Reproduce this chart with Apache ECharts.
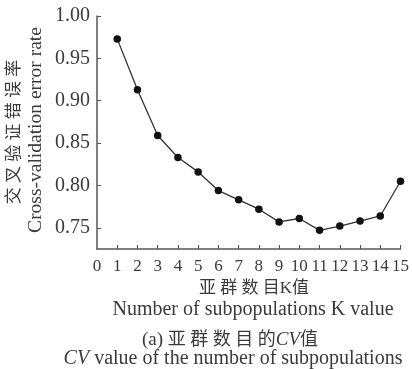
<!DOCTYPE html>
<html><head><meta charset="utf-8">
<script src="https://cdn.jsdelivr.net/npm/echarts@6/dist/echarts.min.js"></script>
<style>html,body{margin:0;padding:0;background:#fff}#c{width:412px;height:369px}</style>
</head><body><div id="c"></div>
<script>
var kValues = [1,2,3,4,5,6,7,8,9,10,11,12,13,14,15];
var cvError = [0.973,0.913,0.859,0.833,0.816,0.794,0.783,0.772,0.757,0.761,0.747,0.752,0.758,0.764,0.805];
var yTicks = [0.75,0.80,0.85,0.90,0.95,1.00];
var xTicks = [0,1,2,3,4,5,6,7,8,9,10,11,12,13,14,15];
var FONT = '"Liberation Serif","Noto Sans CJK SC",serif';
var TXT = '#3a3a3a';
var chart = echarts.init(document.getElementById('c'));
chart.setOption({
  animation:false,
  backgroundColor:'#fff',
  grid:{left:97,right:8,top:16,bottom:120,containLabel:false},
  xAxis:{type:'value',min:0,max:15,interval:1,
    axisLine:{onZero:false,lineStyle:{color:'#555',width:1.5}},
    axisTick:{inside:true,length:4,lineStyle:{color:'#555'},customValues:xTicks.slice(1)},
    axisLabel:{color:TXT,fontFamily:FONT,fontSize:17,margin:9,customValues:xTicks},
    splitLine:{show:false}},
  yAxis:{type:'value',min:0.725,max:1.0,
    axisLine:{show:true,lineStyle:{color:'#555',width:1.5}},
    axisTick:{show:true,inside:true,length:4,lineStyle:{color:'#555'},customValues:yTicks},
    axisLabel:{color:TXT,fontFamily:FONT,fontSize:20,margin:7,customValues:yTicks,formatter:function(v){return v.toFixed(2);}},
    splitLine:{show:false}},
  series:[{type:'line',data:kValues.map(function(k,i){return [k,cvError[i]];}),
    symbol:'circle',symbolSize:7.5,lineStyle:{color:'#333',width:1.3},itemStyle:{color:'#111'}}],
  graphic:[
    {type:'text',x:15,y:132,rotation:Math.PI/2,style:{text:'交 叉 验 证 错 误 率',font:'17px '+FONT,fill:TXT,align:'center',verticalAlign:'middle'}},
    {type:'text',x:36,y:130,rotation:Math.PI/2,style:{text:'Cross-validation error rate',font:'19.5px '+FONT,fill:TXT,align:'center',verticalAlign:'middle'}},
    {type:'text',x:254,y:289,style:{text:'亚 群 数 目K值',font:'17px '+FONT,fill:TXT,align:'center',verticalAlign:'middle'}},
    {type:'text',x:253,y:310,style:{text:'Number of subpopulations K value',font:'20px '+FONT,fill:TXT,align:'center',verticalAlign:'middle'}},
    {type:'text',x:230,y:340,style:{rich:{p:{font:'19px '+FONT,fill:TXT},a:{font:'18px '+FONT,fill:TXT},i:{font:'italic 19px '+FONT,fill:TXT}},text:'{p|(a) }{a|亚 群 数 目 的}{i|CV}{a|值}',align:'center',verticalAlign:'middle'}},
    {type:'text',x:233,y:359,style:{rich:{a:{font:'20px '+FONT,fill:TXT},i:{font:'italic 20px '+FONT,fill:TXT}},text:'{i|CV}{a| value of the number of subpopulations}',align:'center',verticalAlign:'middle'}}
  ]
});
</script></body></html>
